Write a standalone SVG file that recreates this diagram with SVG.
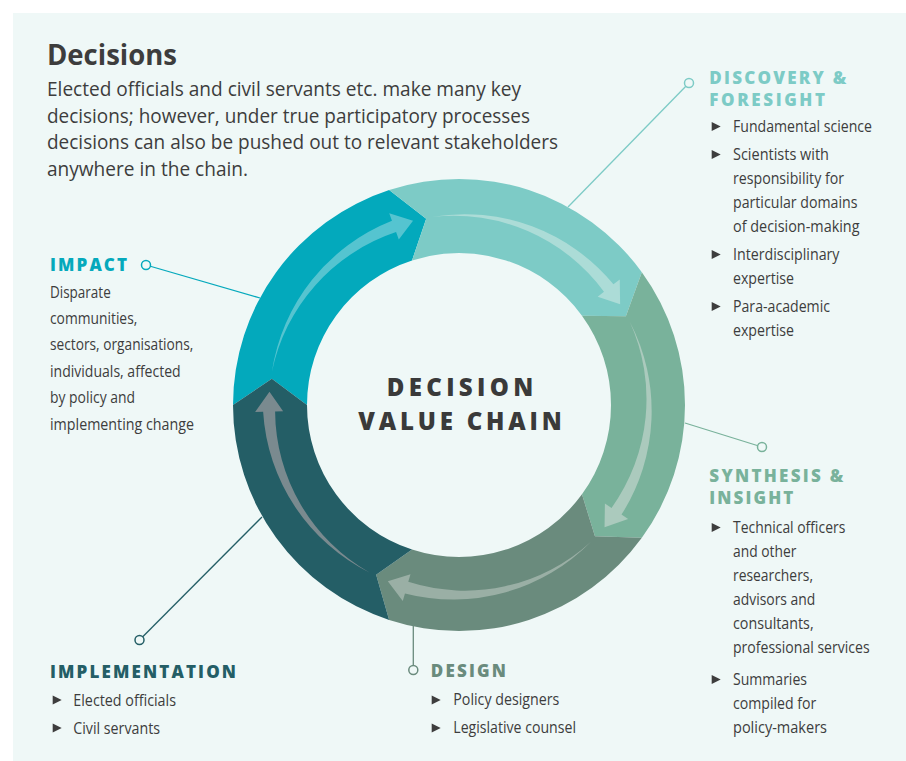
<svg xmlns="http://www.w3.org/2000/svg" width="906" height="761" viewBox="0 0 906 761">
<defs>
<style>
text{font-family:"Open Sans","Noto Sans","DejaVu Sans",sans-serif;fill:#3d3d3d}
.title{font-size:28px;font-weight:700}
.lead{font-size:20px}
.item{font-size:17px}
.head{font-size:17px;font-weight:800}
.center{font-size:24px;font-weight:800;fill:#3a3a3a}
.conn line{stroke-width:1.3;fill:none}
.conn circle{fill:#eff8f7;stroke-width:1.5}
.bul{fill:#3d3d3d}
</style>
<path id="b" d="M0,-4.5 L9,0 L0,4.5 Z"/>
</defs>
<rect x="0" y="0" width="906" height="761" fill="#ffffff"/>
<rect x="13" y="13" width="893" height="748" fill="#eff8f7"/>

<g id="intro">
<text class="title" x="47" y="65" textLength="130" lengthAdjust="spacingAndGlyphs">Decisions</text>
<text class="lead" x="47" y="96" textLength="474" lengthAdjust="spacingAndGlyphs">Elected officials and civil servants etc. make many key</text>
<text class="lead" x="47" y="122.7" textLength="483" lengthAdjust="spacingAndGlyphs">decisions; however, under true participatory processes</text>
<text class="lead" x="47" y="149.3" textLength="511" lengthAdjust="spacingAndGlyphs">decisions can also be pushed out to relevant stakeholders</text>
<text class="lead" x="47" y="176" textLength="201" lengthAdjust="spacingAndGlyphs">anywhere in the chain.</text>
</g>

<g id="connectors" class="conn">
<line x1="568" y1="207" x2="689" y2="83" stroke="#7dcbc6"/>
<circle cx="689" cy="83" r="4.5" stroke="#7dcbc6"/>
<line x1="260" y1="298" x2="146" y2="265" stroke="#05a9bc"/>
<circle cx="146" cy="265" r="4.5" stroke="#05a9bc"/>
<line x1="685" y1="423" x2="762" y2="447" stroke="#79b29b"/>
<circle cx="762" cy="447" r="4.5" stroke="#79b29b"/>
<line x1="262" y1="517" x2="139.5" y2="640" stroke="#245e66"/>
<circle cx="139.5" cy="640" r="4.5" stroke="#245e66"/>
<line x1="413.3" y1="624" x2="413.3" y2="670" stroke="#6a8b7d"/>
<circle cx="413.3" cy="670" r="4.5" stroke="#6a8b7d"/>
</g>

<g id="impact">
<path d="M233,405 A226,226 0 0 1 389.16,190.06 L426.18,218.87 L412.03,260.44 A152,152 0 0 0 307,405 L271.84,378.70 Z" fill="#03a9bc"/>
<path d="M271.89,372.01 A193,193 0 0 1 391.96,220.82 L389.23,213.30 L413.04,220.64 L398.80,239.61 L396.07,232.10 A187,187 0 0 0 271.89,372.01 Z" fill="#55c4d0"/>
<text class="head" x="50" y="271" textLength="77" lengthAdjust="spacing" style="fill:#05a9bc">IMPACT</text>
<text class="item" x="50" y="298" textLength="60.7" lengthAdjust="spacingAndGlyphs">Disparate</text>
<text class="item" x="50" y="324" textLength="87.3" lengthAdjust="spacingAndGlyphs">communities,</text>
<text class="item" x="50" y="350" textLength="143.3" lengthAdjust="spacingAndGlyphs">sectors, organisations,</text>
<text class="item" x="50" y="377" textLength="130.7" lengthAdjust="spacingAndGlyphs">individuals, affected</text>
<text class="item" x="50" y="403" textLength="85" lengthAdjust="spacingAndGlyphs">by policy and</text>
<text class="item" x="50" y="430" textLength="144" lengthAdjust="spacingAndGlyphs">implementing change</text>
</g>

<g id="discovery">
<path d="M389.16,190.06 A226,226 0 0 1 641.84,272.16 L625.88,316.27 L581.97,315.66 A152,152 0 0 0 412.03,260.44 L426.18,218.87 Z" fill="#7dcbc6"/>
<path d="M432.56,216.85 A193,193 0 0 1 613.45,284.33 L619.75,279.41 L620.13,304.32 L597.69,296.64 L603.99,291.72 A187,187 0 0 0 432.56,216.85 Z" fill="#acdcd7"/>
<text class="head" x="709.3" y="84" textLength="137" lengthAdjust="spacing" style="fill:#7dcbc6">DISCOVERY &amp;</text>
<text class="head" x="709.3" y="105.5" textLength="115.7" lengthAdjust="spacing" style="fill:#7dcbc6">FORESIGHT</text>
<use href="#b" x="711.7" y="126.5" class="bul"/>
<use href="#b" x="711.7" y="154.5" class="bul"/>
<use href="#b" x="711.7" y="254.5" class="bul"/>
<use href="#b" x="711.7" y="306.5" class="bul"/>
<text class="item" x="733" y="132" textLength="139" lengthAdjust="spacingAndGlyphs">Fundamental science</text>
<text class="item" x="733" y="160" textLength="96" lengthAdjust="spacingAndGlyphs">Scientists with</text>
<text class="item" x="733" y="184" textLength="111" lengthAdjust="spacingAndGlyphs">responsibility for</text>
<text class="item" x="733" y="208" textLength="124.5" lengthAdjust="spacingAndGlyphs">particular domains</text>
<text class="item" x="733" y="232" textLength="126.5" lengthAdjust="spacingAndGlyphs">of decision-making</text>
<text class="item" x="733" y="260" textLength="106.5" lengthAdjust="spacingAndGlyphs">Interdisciplinary</text>
<text class="item" x="733" y="284" textLength="61" lengthAdjust="spacingAndGlyphs">expertise</text>
<text class="item" x="733" y="312" textLength="97" lengthAdjust="spacingAndGlyphs">Para-academic</text>
<text class="item" x="733" y="336" textLength="61" lengthAdjust="spacingAndGlyphs">expertise</text>
</g>

<g id="synthesis">
<path d="M641.84,272.16 A226,226 0 0 1 641.84,537.84 L594.96,536.29 L581.97,494.34 A152,152 0 0 0 581.97,315.66 L625.88,316.27 Z" fill="#79b29b"/>
<path d="M629.77,321.71 A193,193 0 0 1 621.49,514.60 L628.12,519.07 L604.55,527.13 L604.91,503.42 L611.54,507.89 A187,187 0 0 0 629.77,321.71 Z" fill="#abcabd"/>
<text class="head" x="709.3" y="482" textLength="134" lengthAdjust="spacing" style="fill:#79b29b">SYNTHESIS &amp;</text>
<text class="head" x="709.3" y="503.5" textLength="84" lengthAdjust="spacing" style="fill:#79b29b">INSIGHT</text>
<use href="#b" x="711.7" y="527.5" class="bul"/>
<use href="#b" x="711.7" y="679.5" class="bul"/>
<text class="item" x="733" y="533" textLength="112.3" lengthAdjust="spacingAndGlyphs">Technical officers</text>
<text class="item" x="733" y="557" textLength="63.3" lengthAdjust="spacingAndGlyphs">and other</text>
<text class="item" x="733" y="581" textLength="80" lengthAdjust="spacingAndGlyphs">researchers,</text>
<text class="item" x="733" y="605" textLength="82.3" lengthAdjust="spacingAndGlyphs">advisors and</text>
<text class="item" x="733" y="629" textLength="80.6" lengthAdjust="spacingAndGlyphs">consultants,</text>
<text class="item" x="733" y="653" textLength="136.6" lengthAdjust="spacingAndGlyphs">professional services</text>
<text class="item" x="733" y="685" textLength="74" lengthAdjust="spacingAndGlyphs">Summaries</text>
<text class="item" x="733" y="709" textLength="83.3" lengthAdjust="spacingAndGlyphs">compiled for</text>
<text class="item" x="733" y="733" textLength="94" lengthAdjust="spacingAndGlyphs">policy-makers</text>
</g>

<g id="design">
<path d="M641.84,537.84 A226,226 0 0 1 389.16,619.94 L376.15,574.87 L412.03,549.56 A152,152 0 0 0 581.97,494.34 L594.96,536.29 Z" fill="#6a8b7d"/>
<path d="M590.99,541.67 A193,193 0 0 1 404.97,593.41 L402.77,601.10 L387.82,581.16 L410.49,574.18 L408.28,581.87 A187,187 0 0 0 590.99,541.67 Z" fill="#9aafa5"/>
<text class="head" x="430.7" y="677" textLength="75.3" lengthAdjust="spacing" style="fill:#6a8b7d">DESIGN</text>
<use href="#b" x="431.7" y="700" class="bul"/>
<use href="#b" x="431.7" y="728" class="bul"/>
<text class="item" x="453.3" y="705" textLength="106" lengthAdjust="spacingAndGlyphs">Policy designers</text>
<text class="item" x="453.3" y="733" textLength="122.7" lengthAdjust="spacingAndGlyphs">Legislative counsel</text>
</g>

<g id="implementation">
<path d="M389.16,619.94 A226,226 0 0 1 233,405 L271.84,378.70 L307,405 A152,152 0 0 0 412.03,549.56 L376.15,574.87 Z" fill="#245e66"/>
<path d="M369.80,572.76 A193,193 0 0 1 263.12,411.84 L255.12,412.12 L269.46,391.75 L283.11,411.14 L275.11,411.42 A187,187 0 0 0 369.80,572.76 Z" fill="#7a8a8f"/>
<text class="head" x="50" y="677.5" textLength="186" lengthAdjust="spacing" style="fill:#245e66">IMPLEMENTATION</text>
<use href="#b" x="52.7" y="700" class="bul"/>
<use href="#b" x="52.7" y="728" class="bul"/>
<text class="item" x="73.3" y="705.5" textLength="102.7" lengthAdjust="spacingAndGlyphs">Elected officials</text>
<text class="item" x="73.3" y="733.5" textLength="86.7" lengthAdjust="spacingAndGlyphs">Civil servants</text>
</g>

<g id="center">
<text class="center" x="386.7" y="396" textLength="146.6" lengthAdjust="spacing">DECISION</text>
<text class="center" x="358.3" y="430" textLength="203.4" lengthAdjust="spacing">VALUE CHAIN</text>
</g>
</svg>
